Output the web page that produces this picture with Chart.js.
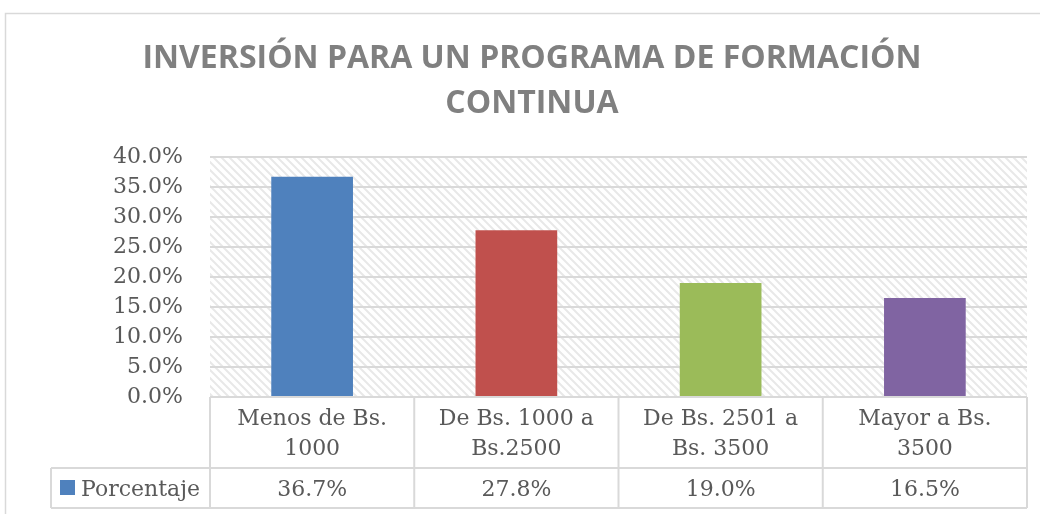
<!DOCTYPE html>
<html>
<head>
<meta charset="utf-8">
<script src="https://cdn.jsdelivr.net/npm/chart.js@4/dist/chart.umd.min.js"></script>
<style>
  body { margin: 0; background: #fff; }
  canvas { display: block; }
</style>
</head>
<body>
<canvas id="myChart" width="1040" height="514"></canvas>
<script>
// datos
const titulo = ['INVERSIÓN PARA UN PROGRAMA DE FORMACIÓN', 'CONTINUA']
const categorias = [
  ['Menos de Bs.', '1000'],
  ['De Bs. 1000 a', 'Bs.2500'],
  ['De Bs. 2501 a', 'Bs. 3500'],
  ['Mayor a Bs.', '3500']
]
const valores = [36.7, 27.8, 19.0, 16.5]
const colores = ['#4f81bd', '#c0504d', '#9bbb59', '#8064a2']
const serie = 'Porcentaje'

const fuenteSerif = '22px "DejaVu Serif", "Liberation Serif", serif'
const gris = '#595959'
const linea = '#d9d9d9'

// patron rayado del fondo
function crearPatron(ctx) {
  const c = document.createElement('canvas')
  c.width = 8
  c.height = 8
  const p = c.getContext('2d')
  p.fillStyle = '#ffffff'
  p.fillRect(0, 0, 8, 8)
  p.strokeStyle = '#e8e8e8'
  p.lineWidth = 2
  p.beginPath()
  p.moveTo(-2, -2); p.lineTo(10, 10)
  p.moveTo(-2, 6); p.lineTo(2, 10)
  p.moveTo(6, -2); p.lineTo(10, 2)
  p.stroke()
  return ctx.createPattern(c, 'repeat')
}

const fondo = {
  id: 'fondo',
  beforeDraw(chart) {
    const ctx = chart.ctx
    const a = chart.chartArea
    ctx.save()
    // marco del grafico
    ctx.strokeStyle = linea
    ctx.lineWidth = 1.5
    ctx.strokeRect(5.5, 13.5, 1100, 600)
    // titulo
    ctx.fillStyle = '#808080'
    ctx.font = 'bold 32px "Open Sans", sans-serif'
    ctx.textAlign = 'center'
    ctx.textBaseline = 'alphabetic'
    ctx.fillText(titulo[0], 532, 68)
    ctx.fillText(titulo[1], 532, 113)
    // area rayada
    ctx.fillStyle = crearPatron(ctx)
    ctx.fillRect(a.left, a.top, a.right - a.left, a.bottom - a.top)
    ctx.restore()
  }
}

// tabla de datos bajo el eje
const tabla = {
  id: 'tabla',
  afterDraw(chart) {
    const ctx = chart.ctx
    const x = chart.scales.x
    const a = chart.chartArea
    const ancho = x.getPixelForValue(1) - x.getPixelForValue(0)
    const y0 = a.bottom
    const y1 = 468
    const y2 = 508
    const izq = 51
    ctx.save()
    ctx.strokeStyle = linea
    ctx.lineWidth = 2
    ctx.beginPath()
    ctx.moveTo(izq, y1); ctx.lineTo(a.right, y1)
    ctx.moveTo(izq, y2); ctx.lineTo(a.right, y2)
    ctx.moveTo(izq, y1); ctx.lineTo(izq, y2)
    for (let i = 0; i <= categorias.length; i++) {
      const px = x.getPixelForValue(0) - ancho / 2 + i * ancho
      ctx.moveTo(px, y0); ctx.lineTo(px, y2)
    }
    ctx.stroke()

    ctx.fillStyle = gris
    ctx.font = fuenteSerif
    ctx.textAlign = 'center'
    ctx.textBaseline = 'middle'
    categorias.forEach((cat, i) => {
      const cx = x.getPixelForValue(i)
      ctx.fillText(cat[0], cx, 419)
      ctx.fillText(cat[1], cx, 449)
      ctx.fillText(valores[i].toFixed(1) + '%', cx, 490)
    })
    // leyenda
    ctx.fillStyle = colores[0]
    ctx.fillRect(60, 480, 15, 15)
    ctx.fillStyle = gris
    ctx.textAlign = 'left'
    ctx.fillText(serie, 81, 490)
    ctx.restore()
  }
}

const ctx = document.getElementById('myChart')

const data = {
  labels: categorias,
  datasets: [{
    label: serie,
    data: valores,
    backgroundColor: colores,
    borderWidth: 0,
    categoryPercentage: 1,
    barPercentage: 0.4
  }]
}

const config = {
  type: 'bar',
  data: data,
  options: {
    responsive: false,
    animation: false,
    layout: {
      padding: { top: 157, right: 13, bottom: 117, left: 0 }
    },
    scales: {
      x: { display: false },
      y: {
        min: 0,
        max: 40,
        afterFit(scale) { scale.width = 210 },
        border: { display: false },
        grid: { color: linea, lineWidth: 2, drawTicks: false },
        ticks: {
          stepSize: 5,
          padding: 27,
          color: gris,
          font: { family: '"DejaVu Serif", "Liberation Serif", serif', size: 22 },
          callback: v => v.toFixed(1) + '%'
        }
      }
    },
    plugins: {
      legend: { display: false },
      title: { display: false },
      tooltip: { enabled: false }
    }
  },
  plugins: [fondo, tabla]
}

const myChart = new Chart(ctx, config)
</script>
</body>
</html>
